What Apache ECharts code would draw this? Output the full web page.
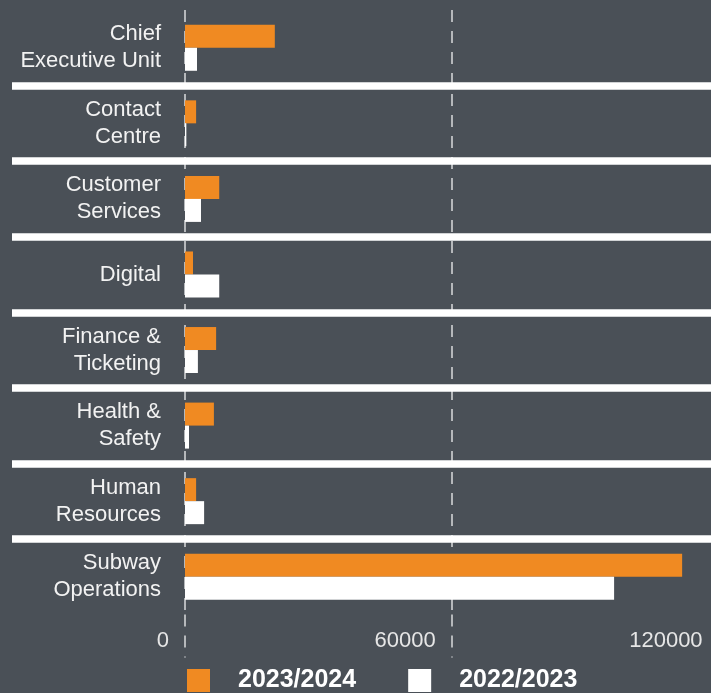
<!DOCTYPE html>
<html>
<head>
<meta charset="utf-8">
<script src="https://cdn.jsdelivr.net/npm/echarts@6/dist/echarts.min.js"></script>
<style>
html,body{margin:0;padding:0;background:#4a5057;}
#c{width:711px;height:693px;}
</style>
</head>
<body>
<div id="c"></div>
<script>
const categories = ['Chief\nExecutive Unit','Contact\nCentre','Customer\nServices','Digital','Finance &\nTicketing','Health &\nSafety','Human\nResources','Subway\nOperations'];
const seriesNames = ['2023/2024','2022/2023'];
const values2324 = [20200, 2500, 7700, 1800, 7000, 6500, 2500, 111800];
const values2223 = [2700, 300, 3600, 7700, 2900, 900, 4300, 96500];
const xMin = 0, xMax = 120000, xStep = 60000;

const FONT = "'Liberation Sans', sans-serif";
const chart = echarts.init(document.getElementById('c'), null, {renderer:'canvas'});
const gridTop = 10, gridHeight = 604.5;
chart.setOption({
  backgroundColor: '#4a5057',
  animation: false,
  legend: {
    data: seriesNames,
    left: 187, top: 668, padding: 0,
    itemWidth: 23, itemHeight: 23, itemGap: 52,
    icon: 'rect',
    textStyle: {color:'#ffffff', fontSize: 25, fontWeight:'bold', fontFamily:FONT, padding:[0,0,0,23]}
  },
  grid: [
    {left: 185, width: 533.6, top: gridTop, height: gridHeight, outerBoundsMode:'none', containLabel:false},
    {left: 12, right: 0, top: gridTop, height: gridHeight, outerBoundsMode:'none'}
  ],
  xAxis: [
    {type:'value', gridIndex:0, min:xMin, max:xMax, interval:xStep,
     axisLine:{show:false},
     axisTick:{show:true, length:43, lineStyle:{color:'#c9cbcd', width:1.7, type:[12,9]}},
     splitLine:{show:true, lineStyle:{color:'#c9cbcd', width:1.7, type:[12,9]}},
     axisLabel:{color:'#e6e6e6', fontSize:22, fontFamily:FONT, align:'right', padding:[0,16,0,0], margin:15,
       formatter: v => String(v)}
    },
    {type:'value', gridIndex:1, min:0, max:1, show:false}
  ],
  yAxis: [
    {type:'category', gridIndex:0, data:categories, inverse:true,
     axisLine:{show:false}, axisTick:{show:false}, splitLine:{show:false},
     axisLabel:{color:'#f2f2f2', fontSize:22, lineHeight:27, fontFamily:FONT, margin:24, align:'right'}
    },
    {type:'category', gridIndex:1, data:categories, inverse:true, z:3,
     axisLine:{show:false}, axisTick:{show:false}, axisLabel:{show:false},
     splitLine:{show:true, showMinLine:false, showMaxLine:false, lineStyle:{color:'#ffffff', width:7.7}}
    }
  ],
  series: [
    {name:seriesNames[0], type:'bar', xAxisIndex:0, yAxisIndex:0, data:values2324, barWidth:23, barGap:'0%', itemStyle:{color:'#f08a22'}, z:5},
    {name:seriesNames[1], type:'bar', xAxisIndex:0, yAxisIndex:0, data:values2223, barWidth:23, barGap:'0%', itemStyle:{color:'#ffffff'}, z:5}
  ]
});
</script>
</body>
</html>
